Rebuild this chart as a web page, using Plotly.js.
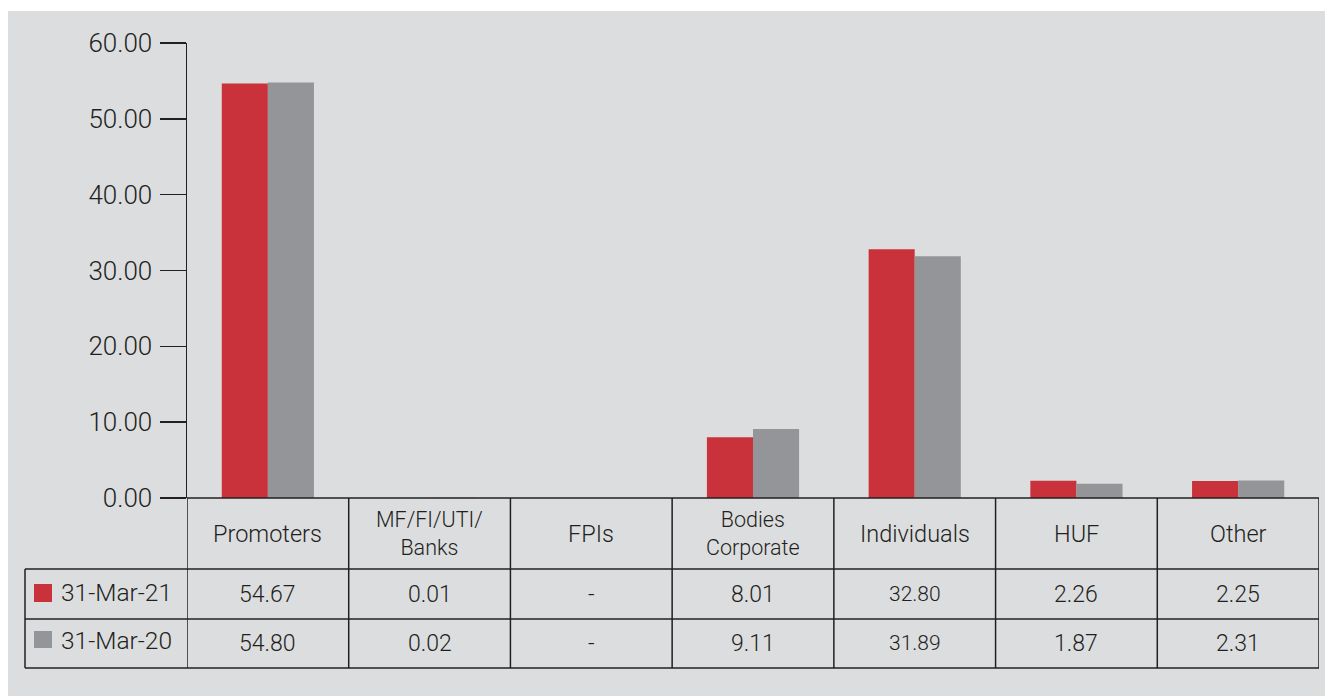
<!DOCTYPE html>
<html>
<head>
<meta charset="utf-8">
<script src="https://cdn.plot.ly/plotly-3.0.1.min.js"></script>
<style>html,body{margin:0;padding:0;background:#fff;}#chart{width:1325px;height:696px;}</style>
</head>
<body>
<div id="chart"></div>
<script>
// ---- data ----
const categories = ["Promoters", "MF/FI/UTI/\nBanks", "FPIs", "Bodies\nCorporate", "Individuals", "HUF", "Other"];
const seriesNames = ["31-Mar-21", "31-Mar-20"];
const values2021 = [54.67, 0.01, null, 8.01, 32.80, 2.26, 2.25];
const values2020 = [54.80, 0.02, null, 9.11, 31.89, 1.87, 2.31];
const yTickVals = [0, 10, 20, 30, 40, 50, 60];

// ---- style ----
const RED = "#c9323a", GREY = "#949598", BG = "#dcdddf", INK = "#231f20";
const FONT = "Roboto, 'Noto Sans', sans-serif";
const W = 1325, H = 696, L = 187, R = 6, T = 43, B = 198;
const PW = W - L - R, PH = H - T - B;
const px = v => (v - L) / PW;          // pixel x -> paper x
const py = v => (H - B - v) / PH;      // pixel y -> paper y
const xs = categories.map((c, i) => i);

const traces = [
  {type: "bar", x: xs, y: values2021, name: seriesNames[0], marker: {color: RED}, hoverinfo: "skip"},
  {type: "bar", x: xs, y: values2020, name: seriesNames[1], marker: {color: GREY}, hoverinfo: "skip"}
];

const LINE = {color: INK, width: 1.5};
const shapes = [];
// white strips around grey panel
shapes.push({type: "rect", xref: "paper", yref: "paper", x0: px(0), x1: px(8), y0: py(H), y1: py(0), fillcolor: "#fff", line: {width: 0}, layer: "above"});
shapes.push({type: "rect", xref: "paper", yref: "paper", x0: px(0), x1: px(W), y0: py(11), y1: py(0), fillcolor: "#fff", line: {width: 0}, layer: "above"});

// table geometry (pixels)
const rowY = [498, 569, 619, 668];
const legX = 25;
shapes.push({type: "line", xref: "paper", yref: "paper", x0: 0, x1: 1, y0: py(rowY[0]), y1: py(rowY[0]), line: LINE});
for (let r = 1; r < rowY.length; r++) {
  shapes.push({type: "line", xref: "paper", yref: "paper", x0: px(legX), x1: 1, y0: py(rowY[r]), y1: py(rowY[r]), line: LINE});
}
for (let i = 0; i <= categories.length; i++) {
  shapes.push({type: "line", xref: "x", yref: "paper", x0: i - 0.5, x1: i - 0.5, y0: py(rowY[0]), y1: py(rowY[3]), line: LINE});
}
shapes.push({type: "line", xref: "paper", yref: "paper", x0: px(legX), x1: px(legX), y0: py(rowY[1]), y1: py(rowY[3]), line: LINE});
// legend swatches
[[RED, 584, 602], [GREY, 631, 648]].forEach(([c, a, b]) => {
  shapes.push({type: "rect", xref: "paper", yref: "paper", x0: px(34), x1: px(52), y0: py(b), y1: py(a), fillcolor: c, line: {width: 0}});
});

const annotations = [];
const tf = (s) => ({family: FONT, size: s, color: INK, weight: 300});
categories.forEach((c, i) => {
  const twoLine = c.indexOf("\n") >= 0;
  annotations.push({xref: "x", yref: "paper", x: i, y: py(twoLine ? 533 : 534), text: c.replace("\n", "<br>"), showarrow: false,
    xanchor: "center", yanchor: "middle", font: tf(twoLine ? 21.5 : 23.5)});
});
const fmt = v => v === null ? "-" : v.toFixed(2);
[[values2021, 594], [values2020, 643]].forEach(([vals, cy]) => {
  vals.forEach((v, i) => {
    annotations.push({xref: "x", yref: "paper", x: i, y: py(cy), text: fmt(v), showarrow: false,
      xanchor: "center", yanchor: "middle", font: tf(categories[i] === "Individuals" ? 21 : 23)});
  });
});
[[seriesNames[0], 592], [seriesNames[1], 640]].forEach(([t, cy]) => {
  annotations.push({xref: "paper", yref: "paper", x: px(59), y: py(cy), text: t, showarrow: false,
    xanchor: "left", yanchor: "middle", font: tf(24.5)});
});

const layout = {
  width: W, height: H,
  margin: {l: L, r: R, t: T, b: B, pad: 0},
  paper_bgcolor: BG, plot_bgcolor: BG,
  showlegend: false,
  barmode: "group", bargap: 0.43, bargroupgap: 0,
  font: {family: FONT, color: INK},
  xaxis: {range: [-0.5, 6.5], showticklabels: false, ticks: "", showgrid: false, zeroline: false, showline: false, fixedrange: true},
  yaxis: {range: [0, 60], tickvals: yTickVals, ticktext: yTickVals.map(v => v.toFixed(2)),
    ticks: "outside", ticklen: 26, tickwidth: 1.5, tickcolor: INK,
    showline: true, linecolor: INK, linewidth: 1.5, showgrid: false, zeroline: false,
    ticklabelstandoff: 2,
    tickfont: {family: FONT, size: 26, color: INK, weight: 300}, fixedrange: true},
  shapes: shapes,
  annotations: annotations
};

Plotly.newPlot("chart", traces, layout, {displayModeBar: false, staticPlot: true});
</script>
</body>
</html>
